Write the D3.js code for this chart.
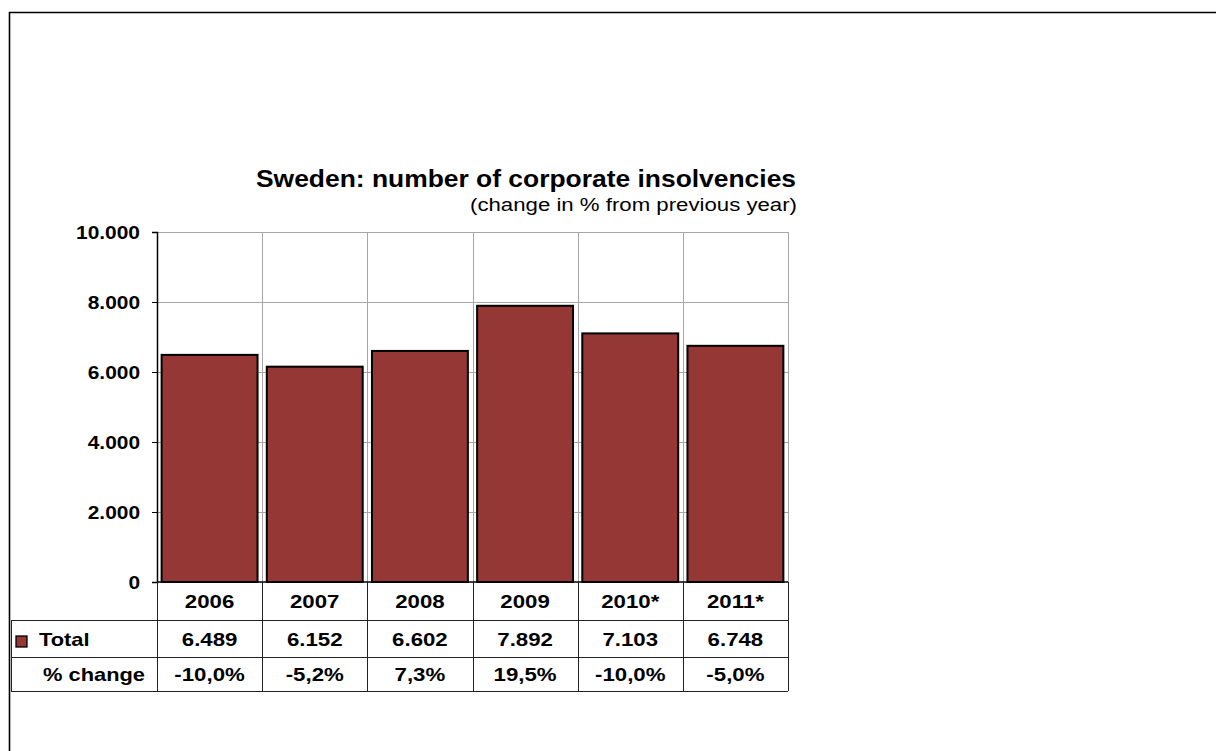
<!DOCTYPE html>
<html>
<head>
<meta charset="utf-8">
<script src="https://cdn.jsdelivr.net/npm/d3@7"></script>
<style>
  html, body { margin: 0; padding: 0; background: #fff; }
  svg { display: block; }
  text { font-family: "Liberation Sans", Arial, sans-serif; fill: #000; }
</style>
</head>
<body>
<svg id="chart" width="1216" height="751"></svg>
<script>
// Corporate insolvencies in Sweden, per year (2010 and 2011 are estimates)
const years = ["2006", "2007", "2008", "2009", "2010*", "2011*"];
const totals = [6489, 6152, 6602, 7892, 7103, 6748];
const pctChange = ["-10,0%", "-5,2%", "7,3%", "19,5%", "-10,0%", "-5,0%"];
const yTicks = [0, 2000, 4000, 6000, 8000, 10000];

const barColor = "#953735";
const fmt = v => d3.format(",")(v).replace(/,/g, ".");

// Widen the glyphs of a text selection horizontally by factor k
function widen(sel, k) {
  sel.each(function () {
    const w = this.getComputedTextLength();
    d3.select(this).attr("textLength", w * k).attr("lengthAdjust", "spacingAndGlyphs");
  });
  return sel;
}

const svg = d3.select("#chart");

// Outer frame (top and left edges visible)
svg.append("path")
  .attr("d", "M9.5,751 V12.5 H1216")
  .attr("fill", "none").attr("stroke", "#000").attr("stroke-width", 1.6);

const plot = { left: 157, right: 788, top: 232, bottom: 582 };

const x = d3.scaleBand().domain(years)
  .range([plot.left, plot.right])
  .paddingInner(0.088).paddingOuter(0.044);
const y = d3.scaleLinear().domain([0, 10000]).range([plot.bottom, plot.top]);

const step = x.step();
const bounds = d3.range(years.length + 1).map(i => plot.left + i * step);

// Grid
const grid = svg.append("g").attr("stroke", "#a6a6a6").attr("stroke-width", 1);
grid.selectAll("line.h").data(yTicks.slice(1)).join("line")
  .attr("x1", plot.left).attr("x2", plot.right)
  .attr("y1", d => Math.round(y(d)) + 0.5).attr("y2", d => Math.round(y(d)) + 0.5);
grid.selectAll("line.v").data(bounds.slice(1)).join("line")
  .attr("x1", d => Math.round(d) + 0.5).attr("x2", d => Math.round(d) + 0.5)
  .attr("y1", plot.top).attr("y2", plot.bottom);

// Bars
svg.append("g").selectAll("rect").data(years).join("rect")
  .attr("x", d => x(d))
  .attr("width", x.bandwidth())
  .attr("y", (d, i) => y(totals[i]))
  .attr("height", (d, i) => y(0) - y(totals[i]))
  .attr("fill", barColor)
  .attr("stroke", "#000").attr("stroke-width", 2);

// Y axis
const yAxis = d3.axisLeft(y).tickValues(yTicks).tickSize(5).tickPadding(12)
  .tickFormat(fmt);
const ya = svg.append("g").attr("transform", `translate(${plot.left},0)`).call(yAxis);
ya.select(".domain").attr("stroke", "#000").attr("stroke-width", 1.5);
ya.selectAll(".tick line").attr("stroke", "#000");
widen(ya.selectAll(".tick text")
  .style("font-family", '"Liberation Sans", Arial, sans-serif')
  .style("font-size", "19px").style("font-weight", "bold").attr("fill", "#000"), 1.1);

// Baseline
svg.append("line")
  .attr("x1", plot.left).attr("x2", plot.right)
  .attr("y1", plot.bottom).attr("y2", plot.bottom)
  .attr("stroke", "#000").attr("stroke-width", 1.5);

// Data table
const rowY = [582, 620, 657, 691];
const tableLeft = 11;
const tbl = svg.append("g").attr("stroke", "#222").attr("stroke-width", 1).attr("fill", "none");
tbl.selectAll("line.v").data(bounds).join("line")
  .attr("x1", d => Math.round(d) + 0.5).attr("x2", d => Math.round(d) + 0.5)
  .attr("y1", rowY[0]).attr("y2", rowY[3]);
tbl.selectAll("line.h").data(rowY.slice(1)).join("line")
  .attr("x1", tableLeft).attr("x2", plot.right)
  .attr("y1", d => d + 0.5).attr("y2", d => d + 0.5);
tbl.append("line")
  .attr("x1", tableLeft + 0.5).attr("x2", tableLeft + 0.5)
  .attr("y1", rowY[1]).attr("y2", rowY[3]);

const cellText = svg.append("g")
  .style("font-size", "19px").style("font-weight", "bold")
  .attr("text-anchor", "middle");
const centers = years.map((d, i) => plot.left + (i + 0.5) * step);
[years, totals.map(fmt), pctChange].forEach((row, r) => {
  widen(cellText.selectAll(null).data(row).join("text")
    .attr("x", (d, i) => centers[i])
    .attr("y", (rowY[r] + rowY[r + 1]) / 2 + 7)
    .text(d => d), 1.17);
});

// Row headers
svg.append("rect")
  .attr("x", 16).attr("y", 636).attr("width", 11).attr("height", 11)
  .attr("fill", barColor).attr("stroke", "#000").attr("stroke-width", 1.3);
widen(svg.append("text").attr("x", 39).attr("y", (rowY[1] + rowY[2]) / 2 + 7)
  .style("font-size", "19px").style("font-weight", "bold").text("Total"), 1.15);
widen(svg.append("text").attr("x", 145).attr("y", (rowY[2] + rowY[3]) / 2 + 7)
  .attr("text-anchor", "end")
  .style("font-size", "19px").style("font-weight", "bold").text("% change"), 1.15);

// Titles
const title = svg.append("text").attr("x", 526).attr("y", 187).attr("text-anchor", "middle")
  .style("font-size", "24px").style("font-weight", "bold")
  .text("Sweden: number of corporate insolvencies");
title.attr("textLength", 540).attr("lengthAdjust", "spacingAndGlyphs");
const sub = svg.append("text").attr("x", 797).attr("y", 211).attr("text-anchor", "end")
  .style("font-size", "17.5px")
  .text("(change in % from previous year)");
sub.attr("textLength", 327).attr("lengthAdjust", "spacingAndGlyphs");
</script>
</body>
</html>
